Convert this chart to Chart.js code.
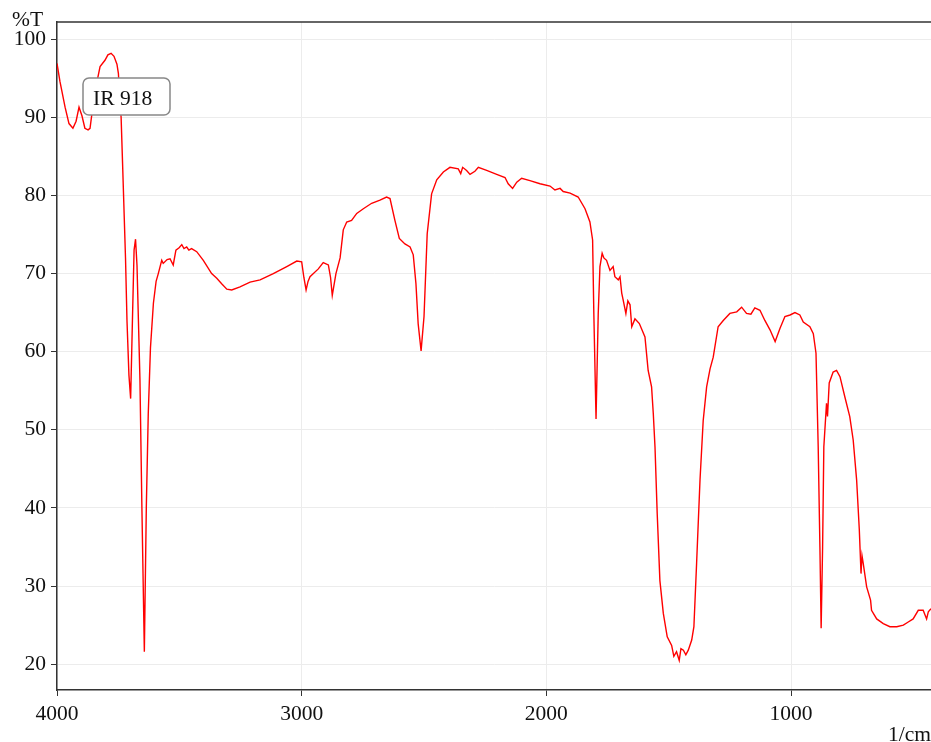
<!DOCTYPE html>
<html>
<head>
<meta charset="utf-8">
<title>IR 918</title>
<script src="https://cdn.jsdelivr.net/npm/chart.js"></script>
<style>
    html, body { margin: 0; padding: 0; background: #fff; }
    #wrap { width: 931px; height: 742px; position: relative; }
</style>
</head>
<body>
<div id="wrap"><canvas id="chart"></canvas></div>
<script>
// Spectrum values (wavenumber in 1/cm, transmittance in %T)
const wavenumbers = [
    4000, 3988, 3967, 3951, 3935, 3922, 3910, 3898, 3886, 3873, 3865, 3853, 3837, 3824, 3804, 3792,
    3779, 3767, 3755, 3749, 3743, 3738, 3732, 3726, 3720, 3714, 3706, 3699, 3691, 3685, 3679, 3673,
    3661, 3653, 3643, 3635, 3627, 3618, 3606, 3595, 3586, 3572, 3566, 3550, 3538, 3525, 3514, 3501,
    3490, 3481, 3470, 3461, 3450, 3429, 3402, 3368, 3347, 3327, 3306, 3286, 3252, 3211, 3170, 3116,
    3061, 3020, 3000, 2991, 2982, 2974, 2966, 2932, 2912, 2891, 2882, 2875, 2860, 2843, 2830, 2816,
    2796, 2775, 2748, 2714, 2680, 2653, 2639, 2619, 2601, 2578, 2557, 2544, 2533, 2524, 2512, 2500,
    2487, 2469, 2448, 2421, 2394, 2360, 2350, 2342, 2326, 2312, 2292, 2278, 2244, 2203, 2169, 2156,
    2138, 2121, 2101, 2067, 2026, 1985, 1965, 1944, 1931, 1903, 1870, 1842, 1822, 1811, 1806, 1797,
    1788, 1781, 1772, 1765, 1754, 1740, 1727, 1720, 1706, 1699, 1692, 1686, 1675, 1667, 1658, 1651,
    1638, 1620, 1597, 1584, 1570, 1563, 1556, 1547, 1536, 1522, 1506, 1488, 1479, 1468, 1457, 1450,
    1440, 1430, 1420, 1406, 1397, 1386, 1372, 1359, 1345, 1331, 1318, 1298, 1277, 1250, 1222, 1202,
    1182, 1164, 1148, 1127, 1107, 1086, 1065, 1045, 1025, 1004, 984, 964, 950, 923, 909, 898,
    889, 882, 877, 871, 866, 855, 851, 844, 828, 814, 800, 780, 760, 746, 732, 721,
    714, 710, 705, 691, 675, 671, 650, 623, 596, 568, 541, 521, 501, 480, 460, 446,
    439, 428
];
const transmittance = [
    96.9, 94.6, 91.3, 89.2, 88.6, 89.5, 91.3, 90.2, 88.6, 88.4, 88.6, 91.5, 94.5, 96.5, 97.3, 98.0,
    98.2, 97.8, 96.8, 95.6, 92.0, 90.0, 84.1, 78.0, 72.0, 64.0, 57.0, 54.0, 65.0, 73.0, 74.4, 71.0,
    56.4, 40.0, 21.6, 40.0, 52.1, 60.5, 66.2, 69.0, 70.0, 71.7, 71.3, 71.8, 71.9, 71.1, 73.0, 73.3,
    73.7, 73.2, 73.4, 73.0, 73.2, 72.8, 71.7, 70.0, 69.4, 68.7, 68.0, 67.9, 68.3, 68.9, 69.2, 70.0,
    70.9, 71.6, 71.5, 69.5, 67.9, 69.0, 69.6, 70.6, 71.4, 71.1, 69.5, 67.2, 70.0, 72.0, 75.6, 76.6,
    76.8, 77.7, 78.3, 79.0, 79.4, 79.8, 79.6, 76.8, 74.5, 73.8, 73.4, 72.4, 68.7, 63.6, 60.1, 64.5,
    75.1, 80.2, 82.0, 83.0, 83.6, 83.4, 82.8, 83.6, 83.2, 82.7, 83.1, 83.6, 83.2, 82.7, 82.3, 81.5,
    80.9, 81.7, 82.2, 81.9, 81.5, 81.2, 80.7, 80.9, 80.5, 80.3, 79.8, 78.3, 76.6, 74.3, 64.9, 51.4,
    64.9, 70.9, 72.6, 72.0, 71.7, 70.4, 70.9, 69.6, 69.2, 69.6, 67.5, 66.6, 64.9, 66.5, 66.0, 63.2,
    64.2, 63.6, 61.9, 57.6, 55.5, 52.1, 47.8, 39.3, 30.7, 26.5, 23.5, 22.4, 21.0, 21.6, 20.5, 22.0,
    21.8, 21.2, 21.8, 23.1, 24.8, 32.9, 43.6, 51.2, 55.5, 57.8, 59.3, 63.2, 64.0, 64.9, 65.1, 65.7,
    64.9, 64.8, 65.6, 65.3, 64.0, 62.8, 61.3, 63.0, 64.5, 64.7, 65.0, 64.7, 63.8, 63.2, 62.3, 59.8,
    47.8, 35.0, 24.6, 35.0, 47.8, 53.4, 51.7, 56.0, 57.4, 57.6, 56.8, 54.2, 51.7, 48.7, 43.6, 37.2,
    31.6, 33.9, 32.9, 29.9, 28.2, 26.9, 25.8, 25.2, 24.8, 24.8, 25.0, 25.4, 25.8, 26.9, 26.9, 25.8,
    26.7, 27.1
];
const xTickValues = [4000, 3000, 2000, 1000];
const yTickValues = [20, 30, 40, 50, 60, 70, 80, 90, 100];
const seriesLabel = 'IR 918';

const FONT = 'Liberation Serif, Times New Roman, serif';
const FONT_SIZE = 21.5;
const AXIS_COLOR = '#333';

/**
 * Draws the frame line on top, the axis titles and the sample label box
 */
const decorations = {
    id: 'decorations',
    afterDraw(chart) {
        const ctx = chart.ctx;
        const area = chart.chartArea;
        ctx.save();

        // top frame line
        ctx.strokeStyle = AXIS_COLOR;
        ctx.lineWidth = 1.5;
        ctx.beginPath();
        ctx.moveTo(area.left, area.top);
        ctx.lineTo(area.right, area.top);
        ctx.stroke();

        // axis titles
        ctx.fillStyle = '#111';
        ctx.font = FONT_SIZE + 'px ' + FONT;
        ctx.textBaseline = 'alphabetic';
        ctx.textAlign = 'left';
        ctx.fillText('%T', 12, 26);
        ctx.textAlign = 'right';
        ctx.fillText('1/cm', 931, 741);

        // label box
        const bx = 83, by = 78, bw = 87, bh = 37;
        ctx.fillStyle = '#fff';
        ctx.strokeStyle = '#888';
        ctx.lineWidth = 1.5;
        ctx.beginPath();
        ctx.roundRect(bx, by, bw, bh, 6);
        ctx.fill();
        ctx.stroke();
        ctx.fillStyle = '#111';
        ctx.textAlign = 'left';
        ctx.fillText(seriesLabel, bx + 10, by + 27);

        ctx.restore();
    }
};

const points = wavenumbers.map((w, i) => ({ x: w, y: transmittance[i] }));

new Chart(document.getElementById('chart'), {
    type: 'line',
    data: {
        datasets: [{
            label: seriesLabel,
            data: points,
            borderColor: '#ff0000',
            borderWidth: 1.4,
            pointRadius: 0,
            tension: 0,
            fill: false
        }]
    },
    options: {
        responsive: true,
        maintainAspectRatio: false,
        animation: false,
        events: [],
        layout: { padding: { top: 22, right: 0, left: 0, bottom: 0 } },
        plugins: {
            legend: { display: false },
            tooltip: { enabled: false }
        },
        scales: {
            x: {
                type: 'linear',
                reverse: true,
                min: 428,
                max: 4000,
                afterBuildTicks: (axis) => {
                    axis.ticks = xTickValues.map(v => ({ value: v }));
                },
                afterFit: (axis) => { axis.height = 52; },
                border: { color: AXIS_COLOR, width: 1.5 },
                grid: {
                    color: '#ececec',
                    lineWidth: 1,
                    tickColor: AXIS_COLOR,
                    tickLength: 6,
                    drawTicks: true
                },
                ticks: {
                    color: '#111',
                    padding: 5,
                    maxRotation: 0,
                    callback: (v) => String(v),
                    font: { family: FONT, size: FONT_SIZE }
                }
            },
            y: {
                type: 'linear',
                min: 16.7,
                max: 102.2,
                afterBuildTicks: (axis) => {
                    axis.ticks = yTickValues.map(v => ({ value: v }));
                },
                afterFit: (axis) => { axis.width = 57; },
                border: { color: AXIS_COLOR, width: 1.5 },
                grid: {
                    color: '#ececec',
                    lineWidth: 1,
                    tickColor: AXIS_COLOR,
                    tickLength: 6,
                    drawTicks: true
                },
                ticks: {
                    color: '#111',
                    padding: 5,
                    callback: (v) => String(v),
                    font: { family: FONT, size: FONT_SIZE }
                }
            }
        }
    },
    plugins: [decorations]
});
</script>
</body>
</html>
